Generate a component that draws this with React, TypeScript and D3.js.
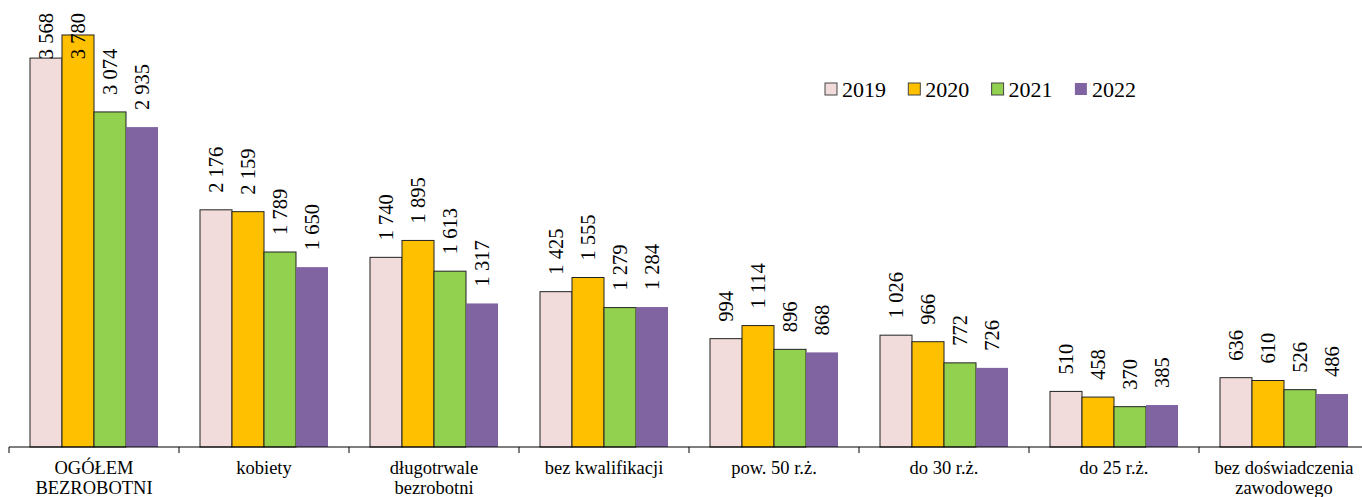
import React from "react";
import * as d3 from "d3";

const categories = [
  "OGÓŁEM\nBEZROBOTNI",
  "kobiety",
  "długotrwale\nbezrobotni",
  "bez kwalifikacji",
  "pow. 50 r.ż.",
  "do 30 r.ż.",
  "do 25 r.ż.",
  "bez doświadczenia\nzawodowego",
];
const years = ["2019", "2020", "2021", "2022"];
const v2019 = [3568, 2176, 1740, 1425, 994, 1026, 510, 636];
const v2020 = [3780, 2159, 1895, 1555, 1114, 966, 458, 610];
const v2021 = [3074, 1789, 1613, 1279, 896, 772, 370, 526];
const v2022 = [2935, 1650, 1317, 1284, 868, 726, 385, 486];
const seriesValues = [v2019, v2020, v2021, v2022];
const colors = ["#F2DCDB", "#FFC000", "#92D050", "#8064A2"];
const strokes = ["#222", "#222", "#222", "none"];

const W = 1362;
const H = 497;
const FONT = "'Liberation Serif', 'Times New Roman', Times, serif";

const fmt = (v: number) => {
  const s = String(v);
  return s.length > 3 ? s.slice(0, s.length - 3) + " " + s.slice(-3) : s;
};

export default function App() {
  const x0 = d3.scaleBand<number>().domain(d3.range(categories.length)).range([9, 1369]).paddingInner(0).paddingOuter(0);
  const x1 = d3.scaleBand<number>().domain(d3.range(years.length)).range([0, x0.bandwidth()]).paddingInner(0).paddingOuter(0.656);
  const y = d3.scaleLinear().domain([0, 4000]).range([447, 11]);
  const labelSize = 20.5;
  const labelLen = (s: string) => s.split("").reduce((a, c) => a + (c === " " ? 0.25 : 0.5), 0) * labelSize;
  const ts = { fontFamily: FONT };

  return (
    <svg width={W} height={H} style={{ position: "absolute", left: 0, top: 0, background: "#fff", fontFamily: FONT }}>
      {categories.map((c, i) => (
        <g key={c} transform={`translate(${x0(i)},0)`}>
          {seriesValues.map((vals, s) => {
            const v = vals[i];
            const bx = x1(s)!;
            const bw = x1.bandwidth();
            const top = y(v);
            const txt = fmt(v);
            const start = top - 17;
            const clamp = start - labelLen(txt) < 13;
            const cx = bx + bw / 2;
            return (
              <g key={s}>
                <rect x={bx} y={top} width={bw} height={y(0) - top} fill={colors[s]} stroke={strokes[s]} strokeWidth={1} />
                <text
                  transform={`translate(${cx},${clamp ? 13 : start}) rotate(-90)`}
                  textAnchor={clamp ? "end" : "start"}
                  dy="0.35em"
                  fontSize={labelSize}
                  fill="#000"
                  style={ts}
                >
                  {txt}
                </text>
              </g>
            );
          })}
          <text textAnchor="middle" fontSize={18.5} fill="#000" style={ts}>
            {c.split("\n").map((line, k) => (
              <tspan key={k} x={x0.bandwidth() / 2} y={474 + k * 20}>
                {line}
              </tspan>
            ))}
          </text>
        </g>
      ))}
      <line x1={9} x2={W} y1={y(0)} y2={y(0)} stroke="#000" strokeWidth={1.2} />
      {d3.range(categories.length + 1).map((i) => {
        const tx = 9 + i * x0.bandwidth();
        return <line key={i} x1={tx} x2={tx} y1={y(0)} y2={y(0) + 6} stroke="#000" strokeWidth={1} />;
      })}
      {years.map((yr, s) => {
        const lx = 825 + s * 83.3;
        return (
          <g key={yr}>
            <rect x={lx} y={83} width={12} height={12} fill={colors[s]} stroke={s === 3 ? "none" : "#444"} strokeWidth={1} />
            <text x={lx + 17} y={97} fontSize={22} fill="#000" style={ts}>
              {yr}
            </text>
          </g>
        );
      })}
    </svg>
  );
}
